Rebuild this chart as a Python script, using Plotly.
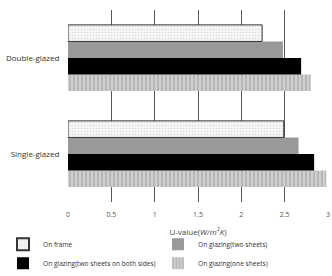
import plotly.graph_objects as go

categories = ["Single-glazed", "Double-glazed"]
on_frame = [2.49, 2.24]
two_sheets = [2.66, 2.48]
both_sides = [2.84, 2.69]
one_sheet = [2.98, 2.80]
x_ticks = [0, 0.5, 1, 1.5, 2, 2.5, 3]
x_tick_labels = ["0", "0.5", "1", "1.5", "2", "2.5", "3"]

fig = go.Figure()
# add from bottom to top (plotly draws first trace lowest within a group)
fig.add_trace(go.Bar(
    y=categories, x=one_sheet, orientation="h", name="On glazing(one sheets)",
    legendrank=4,
    marker=dict(color="#c4c4c4", line=dict(width=0),
                pattern=dict(shape="|", fgcolor="#8a8a8a", bgcolor="#cfcfcf", size=4, solidity=0.35)),
))
fig.add_trace(go.Bar(
    y=categories, x=both_sides, orientation="h", name="On glazing(two sheets on both sides)",
    legendrank=3,
    marker=dict(color="#000000", line=dict(width=0)),
))
fig.add_trace(go.Bar(
    y=categories, x=two_sheets, orientation="h", name="On glazing(two sheets)",
    legendrank=2,
    marker=dict(color="#999999", line=dict(width=0)),
))
fig.add_trace(go.Bar(
    y=categories, x=on_frame, orientation="h", name="On frame",
    legendrank=1,
    marker=dict(color="#f7f7f7", line=dict(width=1, color="#333333"),
                pattern=dict(shape=".", fgcolor="#bdbdbd", bgcolor="#f7f7f7", size=3, solidity=0.25)),
))

fig.update_layout(
    width=332, height=276,
    margin=dict(l=68, r=4, t=10, b=74, autoexpand=False),
    paper_bgcolor="white", plot_bgcolor="white",
    barmode="group", bargap=0.31, bargroupgap=0,
    font=dict(family="Open Sans", size=8, color="#444444"),
    xaxis=dict(
        range=[0, 3], tickvals=x_ticks, ticktext=x_tick_labels,
        showgrid=True, gridcolor="#555555", gridwidth=1,
        zeroline=False, showline=False, automargin=False,
        ticks="outside", ticklen=6, tickcolor="white",
        tickfont=dict(size=7, color="#555555"),
        title=dict(text="U-value(<i>W/m<sup>2</sup>K</i>)", font=dict(size=8, color="#444444"), standoff=10),
    ),
    yaxis=dict(
        showgrid=False, zeroline=False, showline=False, automargin=False,
        ticks="outside", ticklen=6, tickcolor="white",
        tickfont=dict(size=8, color="#333333"),
    ),
    showlegend=True,
    legend=dict(
        orientation="h", x=-0.25, y=-0.145, xanchor="left", yanchor="top",
        entrywidth=110, entrywidthmode="pixels",
        font=dict(size=6.6, color="#333333"),
        itemsizing="constant",
    ),
)

fig.write_html("out.html")
